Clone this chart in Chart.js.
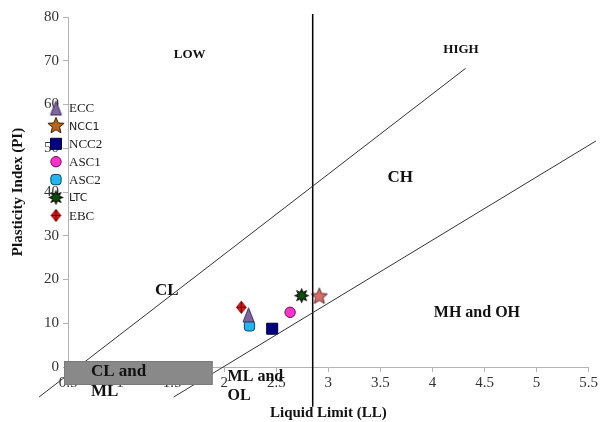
<!DOCTYPE html>
<html>
<head>
<meta charset="utf-8">
<title>Plasticity chart</title>
<script src="https://cdn.jsdelivr.net/npm/chart.js@4.4.0/dist/chart.umd.min.js"></script>
<style>
  body { margin: 0; background: #fff; }
  #wrap { width: 600px; height: 422px; }
</style>
</head>
<body>
<div id="wrap"><canvas id="myChart" width="600" height="422"></canvas></div>
<script>
// datos
const seriesNames = ["ECC", "NCC1", "NCC2", "ASC1", "ASC2", "LTC", "EBC"];
const liquidLimit = [2.234, 2.914, 2.461, 2.633, 2.243, 2.744, 2.164];
const plasticityIndex = [11.9, 16.1, 8.75, 12.5, 9.4, 16.3, 13.65];

// lineas de clasificacion
const upperLineLL = [0.222, 4.319];
const upperLinePI = [-6.86, 68.27];
const lowerLineLL = [1.515, 5.57];
const lowerLinePI = [-6.86, 51.66];
const dividerLL = [2.85, 2.85];
const dividerPI = [-9.1, 80.7];

const xTicksMin = 0.5, xTicksMax = 5.5, xStep = 0.5;
const yTicksMin = 0, yTicksMax = 80, yStep = 10;

const SERIF = '"Liberation Serif", "DejaVu Serif", serif';
const SANS = '"DejaVu Sans", sans-serif';

function nuevoCanvas(size) {
  const c = document.createElement("canvas");
  c.width = size;
  c.height = size;
  return c;
}

function makeStar(spikes, outer, inner, fill, stroke) {
  const size = Math.ceil(outer * 2 + 3);
  const c = nuevoCanvas(size);
  const g = c.getContext("2d");
  const cx = size / 2, cy = size / 2;
  g.beginPath();
  for (let i = 0; i < spikes * 2; i++) {
    const r = i % 2 === 0 ? outer : inner;
    const a = -Math.PI / 2 + (i * Math.PI) / spikes;
    g.lineTo(cx + r * Math.cos(a), cy + r * Math.sin(a));
  }
  g.closePath();
  g.fillStyle = fill;
  g.fill();
  g.strokeStyle = stroke;
  g.lineWidth = 1;
  g.stroke();
  return c;
}

function makeTriangle(w, h, fill, stroke) {
  const size = Math.ceil(Math.max(w, h) + 3);
  const c = nuevoCanvas(size);
  const g = c.getContext("2d");
  const cx = size / 2, cy = size / 2;
  g.beginPath();
  g.moveTo(cx, cy - h / 2);
  g.lineTo(cx + w / 2, cy + h / 2);
  g.lineTo(cx - w / 2, cy + h / 2);
  g.closePath();
  g.fillStyle = fill;
  g.fill();
  g.strokeStyle = stroke;
  g.lineWidth = 1;
  g.stroke();
  return c;
}

function makeDiamondCross(r, fill, stroke) {
  const size = Math.ceil(r * 2 + 3);
  const c = nuevoCanvas(size);
  const g = c.getContext("2d");
  const cx = size / 2, cy = size / 2;
  g.beginPath();
  g.moveTo(cx, cy - r);
  g.lineTo(cx + r * 0.8, cy);
  g.lineTo(cx, cy + r);
  g.lineTo(cx - r * 0.8, cy);
  g.closePath();
  g.fillStyle = fill;
  g.fill();
  g.strokeStyle = stroke;
  g.lineWidth = 1;
  g.stroke();
  g.beginPath();
  g.moveTo(cx - r * 0.8, cy);
  g.lineTo(cx + r * 0.8, cy);
  g.moveTo(cx, cy - r);
  g.lineTo(cx, cy + r);
  g.strokeStyle = "#7a0000";
  g.lineWidth = 1.2;
  g.stroke();
  return c;
}

const triECC = makeTriangle(11, 14, "#8064a2", "#3a2a55");
const starNCC1 = makeStar(5, 8.5, 3.8, "#d86c6a", "#5a2a2a");
const starNCC1Legend = makeStar(5, 8.5, 3.8, "#b5651d", "#3a2000");
const starLTC = makeStar(8, 7, 3.4, "#0b4d0b", "#000");
const diamondEBC = makeDiamondCross(6, "#e31a1c", "#7a0000");

const estilos = [
  { pointStyle: triECC, radius: 7, bg: "#8064a2", border: "#3a2a55" },
  { pointStyle: starNCC1, radius: 8, bg: "#d86c6a", border: "#5a2a2a", legendStyle: starNCC1Legend, legendFont: "11px " + SANS },
  { pointStyle: "rect", radius: 7.8, bg: "#000080", border: "#000033" },
  { pointStyle: "circle", radius: 5.2, bg: "#ff33cc", border: "#5a1050" },
  { pointStyle: "rectRounded", radius: 6, bg: "#22b5f0", border: "#0a4a66" },
  { pointStyle: starLTC, radius: 7, bg: "#0b4d0b", border: "#000", legendFont: "11px " + SANS },
  { pointStyle: diamondEBC, radius: 6, bg: "#e31a1c", border: "#7a0000" },
];

const scatterSets = seriesNames.map((name, i) => ({
  label: name,
  data: [{ x: liquidLimit[i], y: plasticityIndex[i] }],
  pointStyle: estilos[i].pointStyle,
  pointRadius: estilos[i].radius,
  pointHoverRadius: estilos[i].radius,
  backgroundColor: estilos[i].bg,
  borderColor: estilos[i].border,
  pointBorderWidth: 1,
  legendStyle: estilos[i].legendStyle || estilos[i].pointStyle,
  legendFont: estilos[i].legendFont || "13px " + SERIF,
  enLeyenda: true,
}));

function lineSet(xs, ys, color, width) {
  return {
    label: "",
    data: xs.map((x, i) => ({ x: x, y: ys[i] })),
    showLine: true,
    pointRadius: 0,
    borderColor: color,
    borderWidth: width,
    clip: false,
    enLeyenda: false,
  };
}

// textos de zonas en coordenadas de datos
const zonas = [
  { text: ["LOW"], x: 1.669, y: 71.3, size: 13 },
  { text: ["HIGH"], x: 4.274, y: 72.5, size: 13 },
  { text: ["CH"], x: 3.69, y: 43.4, size: 17 },
  { text: ["CL"], x: 1.448, y: 17.4, size: 17 },
  { text: ["MH and OH"], x: 4.427, y: 12.3, size: 16 },
  { text: ["ML and", "OL"], x: 2.033, y: -2.3, size: 16, align: "left" },
];
const cajaCLML = { x0: 0.462, x1: 1.889, y0: 1.37, y1: -4.11, text: ["CL and", "ML"], tx: 0.72, ty: -1.0 };

const anotaciones = {
  id: "anotaciones",
  afterDraw(chart) {
    const ctx = chart.ctx;
    const sx = chart.scales.x, sy = chart.scales.y;
    ctx.save();
    // caja gris
    const bx0 = sx.getPixelForValue(cajaCLML.x0), bx1 = sx.getPixelForValue(cajaCLML.x1);
    const by0 = sy.getPixelForValue(cajaCLML.y0), by1 = sy.getPixelForValue(cajaCLML.y1);
    ctx.fillStyle = "#898989";
    ctx.fillRect(bx0, by0, bx1 - bx0, by1 - by0);
    ctx.strokeStyle = "#7a7a7a";
    ctx.lineWidth = 1;
    ctx.strokeRect(bx0 + 0.5, by0 + 0.5, bx1 - bx0 - 1, by1 - by0 - 1);

    ctx.fillStyle = "#111";
    ctx.textBaseline = "middle";
    ctx.font = "bold 17px " + SERIF;
    ctx.textAlign = "left";
    const cx = sx.getPixelForValue(cajaCLML.tx);
    const cy = sy.getPixelForValue(cajaCLML.ty);
    cajaCLML.text.forEach((t, i) => ctx.fillText(t, cx, cy + i * 20));

    zonas.forEach((z) => {
      ctx.font = "bold " + z.size + "px " + SERIF;
      ctx.textAlign = z.align || "center";
      const px = sx.getPixelForValue(z.x);
      const py = sy.getPixelForValue(z.y);
      z.text.forEach((t, i) => ctx.fillText(t, px, py + i * 19));
    });

    // leyenda
    let ly = 108;
    chart.data.datasets.forEach((ds) => {
      if (!ds.enLeyenda) return;
      ctx.fillStyle = ds.backgroundColor;
      ctx.strokeStyle = ds.borderColor;
      ctx.lineWidth = 1;
      Chart.helpers.drawPoint(ctx, {
        pointStyle: ds.legendStyle,
        radius: ds.pointRadius,
        borderWidth: 1,
        rotation: 0,
      }, 56, ly);
      ctx.fillStyle = "#222";
      ctx.font = ds.legendFont;
      ctx.textAlign = "left";
      ctx.fillText(ds.label, 69, ly + 1);
      ly += 17.9;
    });
    ctx.restore();
  },
};

const axisGrey = "#b3b3b3";
const tickFont = { family: SERIF, size: 15 };
const titleFont = { family: SERIF, size: 15, weight: "bold" };

const config = {
  type: "scatter",
  data: {
    datasets: [
      lineSet(upperLineLL, upperLinePI, "#333", 1),
      lineSet(lowerLineLL, lowerLinePI, "#333", 1),
      lineSet(dividerLL, dividerPI, "#000", 1.5),
      ...scatterSets,
    ],
  },
  options: {
    responsive: false,
    animation: false,
    devicePixelRatio: 1,
    layout: { padding: { top: 17, right: 10, left: 0, bottom: 0 } },
    plugins: { legend: { display: false }, tooltip: { enabled: false } },
    scales: {
      x: {
        type: "linear",
        min: xTicksMin,
        max: xTicksMax,
        ticks: { stepSize: xStep, font: tickFont, color: "#333", padding: 2, callback: (v) => String(Number(v.toFixed(2))) },
        grid: { drawOnChartArea: false, tickLength: 5, color: axisGrey },
        border: { color: axisGrey },
        title: { display: true, text: "Liquid Limit (LL)", font: titleFont, color: "#111", padding: { top: 0, bottom: 0 } },
        afterFit: (scale) => { scale.height = 55; },
      },
      y: {
        type: "linear",
        min: yTicksMin,
        max: yTicksMax,
        ticks: { stepSize: yStep, font: tickFont, color: "#333", padding: 4 },
        grid: { drawOnChartArea: false, tickLength: 5, color: axisGrey },
        border: { color: axisGrey },
        title: { display: true, text: "Plasticity Index (PI)", font: titleFont, color: "#111", padding: { top: 9, bottom: 0 } },
        afterFit: (scale) => { scale.width = 68; },
      },
    },
  },
  plugins: [anotaciones],
};

const myChart = new Chart(document.getElementById("myChart"), config);
</script>
</body>
</html>
